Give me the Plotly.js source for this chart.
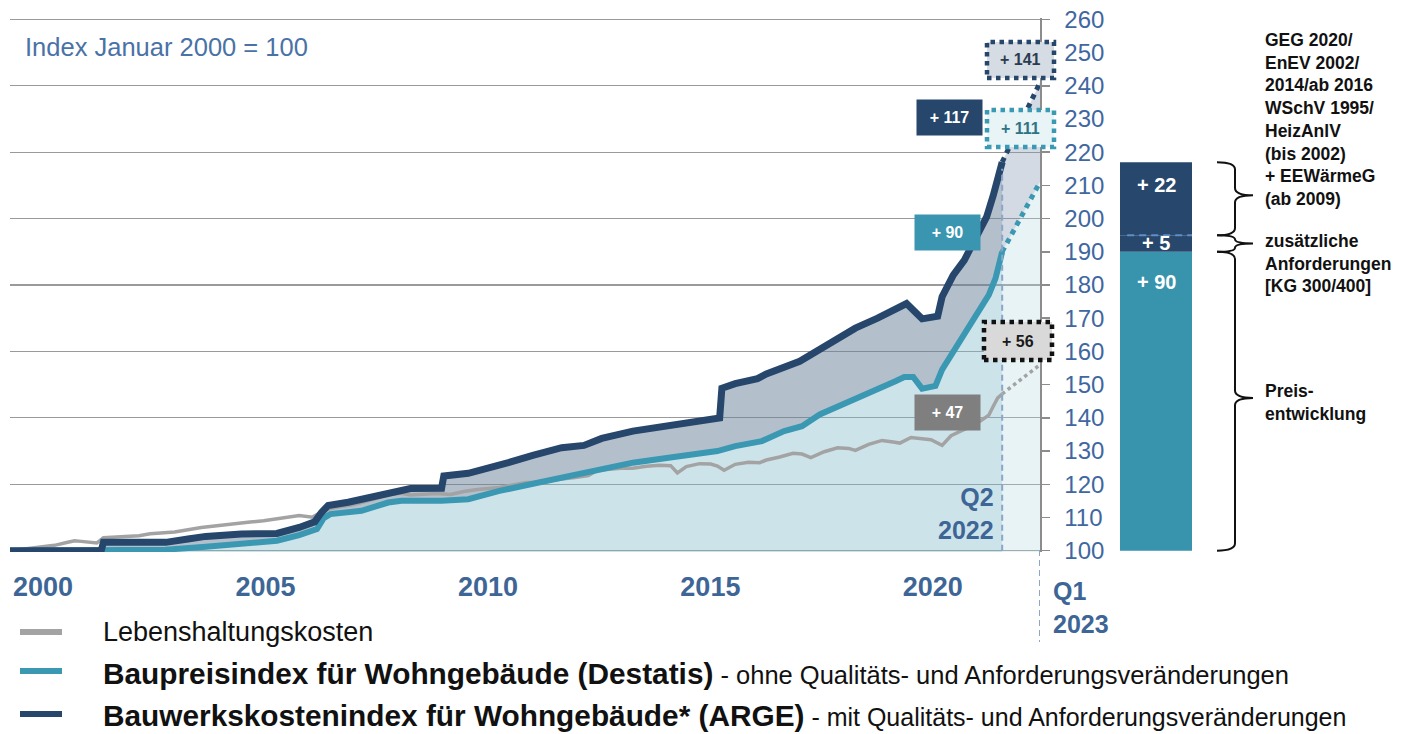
<!DOCTYPE html>
<html>
<head>
<meta charset="utf-8">
<script src="https://cdn.plot.ly/plotly-3.0.1.min.js"></script>
<style>
  html, body { margin: 0; padding: 0; background: #ffffff; }
  #chart { width: 1410px; height: 734px; }
</style>
</head>
<body>
<div id="chart"></div>
<script>
// ---------------- DATA ----------------
// Lebenshaltungskosten (consumer prices), index Jan 2000 = 100
const cpiX = [2000.0,2000.25,2000.5,2000.75,2001.0,2001.25,2001.45,2001.6,2001.8,2001.95,2002.1,2002.3,2002.6,2002.9,2003.15,2003.4,2003.7,2004.0,2004.3,2004.65,2004.9,2005.1,2005.4,2005.7,2006.0,2006.3,2006.5,2006.8,2007.0,2007.1,2007.4,2007.7,2008.0,2008.3,2008.55,2008.8,2009.0,2009.3,2009.6,2009.9,2010.2,2010.5,2010.8,2011.0,2011.3,2011.6,2011.9,2012.1,2012.4,2012.7,2013.0,2013.2,2013.5,2013.8,2014.0,2014.3,2014.6,2014.85,2015.0,2015.2,2015.5,2015.75,2015.9,2016.05,2016.3,2016.6,2016.85,2017.0,2017.3,2017.6,2017.8,2018.0,2018.3,2018.6,2018.85,2019.0,2019.3,2019.6,2019.85,2020.0,2020.25,2020.5,2020.7,2020.95,2021.15,2021.4,2021.6,2021.8,2022.0,2022.1,2022.2,2022.3];
const cpiY = [100.0,100.4,100.9,101.3,101.6,102.4,103.0,102.8,102.5,102.3,103.9,104.1,104.3,104.5,105.1,105.3,105.6,106.3,107.0,107.5,107.8,108.0,108.6,109.0,109.5,110.2,110.6,110.1,111.5,112.4,113.2,113.8,114.9,115.9,117.0,117.3,116.8,117.0,117.2,116.9,117.8,118.4,118.8,119.0,119.8,120.5,120.6,121.1,121.6,122.0,122.6,124.2,124.6,124.9,124.8,125.4,125.7,125.6,123.4,125.3,126.2,126.1,125.5,124.2,126.0,126.6,126.5,127.3,128.2,129.3,129.1,128.0,129.8,131.0,130.8,130.2,132.0,133.2,132.7,132.4,134.1,133.6,133.4,131.7,134.6,136.2,137.3,139.0,140.8,143.5,146.0,147.2];

// Baupreisindex für Wohngebäude (Destatis)
const bpiX = [2000.0,2002.0,2003.5,2004.4,2005.3,2006.0,2006.5,2006.9,2007.05,2007.2,2007.9,2008.5,2008.8,2009.7,2010.3,2010.7,2011.0,2011.7,2012.4,2013.2,2014.0,2014.8,2015.9,2016.3,2016.9,2017.4,2017.8,2018.2,2018.9,2019.5,2019.9,2020.1,2020.3,2020.5,2020.8,2020.95,2021.25,2021.5,2021.8,2022.0,2022.15,2022.3];
const bpiY = [100.0,100.0,100.3,101.2,102.0,103.0,104.7,106.5,109.8,111.0,112.0,114.5,115.0,115.0,115.5,117.0,118.0,120.0,122.0,124.5,126.5,128.0,130.0,131.5,133.0,136.0,137.5,141.0,145.0,148.3,151.0,152.3,152.3,148.8,149.6,154.5,161.0,166.0,173.0,177.0,182.0,190.0];

// Bauwerkskostenindex für Wohngebäude (ARGE)
const bkiX = [2000.0,2002.05,2002.1,2003.5,2004.0,2004.4,2005.2,2006.0,2006.5,2006.85,2007.0,2007.15,2007.6,2008.0,2008.5,2009.0,2009.7,2009.75,2010.3,2010.85,2011.2,2011.75,2012.4,2012.9,2013.3,2014.0,2014.8,2015.3,2015.95,2016.0,2016.3,2016.8,2017.0,2017.75,2018.15,2019.0,2019.5,2019.9,2020.15,2020.5,2020.85,2020.95,2021.2,2021.45,2021.7,2021.95,2022.1,2022.3];
const bkiY = [100.0,100.0,102.5,102.5,103.5,104.3,105.0,105.2,107.0,108.7,111.5,113.6,114.6,115.8,117.5,118.7,118.8,122.5,123.3,125.0,126.5,128.7,131.0,131.7,133.8,136.0,137.7,139.0,140.0,148.9,150.3,151.8,153.2,157.0,160.4,167.0,170.0,173.0,174.4,169.8,170.6,176.5,183.0,187.5,193.5,200.5,207.0,217.0];

// Projection Q2 2022 -> Q1 2023
const projX   = [2022.3, 2023.15];
const cpiProj = [147.2, 156];
const bpiProj = [190, 211];
const bkiProj = [217, 241];

// Stacked bar on the right: Preisentwicklung + zusätzliche Anforderungen + GEG/EnEV
const barParts  = [90, 5, 22];
const barLabels = ['+ 90', '+ 5', '+ 22'];
const barBase   = 100;

// Change labels
const lblBki   = '+ 117';
const lblBkiQ1 = '+ 141';
const lblBpi   = '+ 90';
const lblBpiQ1 = '+ 111';
const lblCpi   = '+ 47';
const lblCpiQ1 = '+ 56';

// Axis ticks
const xTickVals = [2000, 2005, 2010, 2015, 2020];
const xTickText = ['2000', '2005', '2010', '2015', '2020'];
const Q2_2022 = 2022.3;
const Q1_2023 = 2023.15;

// Series names and notes
const nameCpi = 'Lebenshaltungskosten';
const nameBpi = 'Baupreisindex für Wohngebäude (Destatis)';
const nameBki = 'Bauwerkskostenindex für Wohngebäude* (ARGE)';
const noteBpi = ' - ohne Qualitäts- und Anforderungsveränderungen';
const noteBki = ' - mit Qualitäts- und Anforderungsveränderungen';
const sideTop = ['GEG 2020/', 'EnEV 2002/', '2014/ab 2016', 'WSchV 1995/', 'HeizAnlV', '(bis 2002)', '+ EEWärmeG', '(ab 2009)'];
const sideMid = ['zusätzliche', 'Anforderungen', '[KG 300/400]'];
const sideLow = ['Preis-', 'entwicklung'];

// ---------------- STYLE ----------------
const FONT = 'Arial, "Liberation Sans", sans-serif';
const NAVY = '#26466b';
const TEAL = '#3a98b2';
const GRAY = '#a3a3a3';
const AXBLUE = '#3d6696';
const YRANGE = [99.6, 260.4];

// pixel -> paper helpers (plot area: x 10..1400, y 18..552)
const PX = x => (x - 10) / 1390;
const PY = y => (552 - y) / 534;

const traces = [];
// fills (main subplot, semi-transparent so the grid shows through)
traces.push({x: bpiX, y: bpiY, mode: 'lines', line: {width: 0, color: 'rgba(0,0,0,0)'},
  fill: 'tozeroy', fillcolor: 'rgba(130,185,202,0.4)', hoverinfo: 'skip', showlegend: false});
traces.push({x: bkiX, y: bkiY, mode: 'lines', line: {width: 0, color: 'rgba(0,0,0,0)'},
  fill: 'tonexty', fillcolor: 'rgba(105,127,153,0.5)', hoverinfo: 'skip', showlegend: false});
traces.push({x: projX, y: bpiProj, mode: 'lines', line: {width: 0, color: 'rgba(0,0,0,0)'},
  fill: 'tozeroy', fillcolor: 'rgba(178,215,225,0.3)', hoverinfo: 'skip', showlegend: false});
traces.push({x: projX, y: bkiProj, mode: 'lines', line: {width: 0, color: 'rgba(0,0,0,0)'},
  fill: 'tonexty', fillcolor: 'rgba(129,149,175,0.35)', hoverinfo: 'skip', showlegend: false});
// lines (overlay subplot, drawn above the fills)
traces.push({x: cpiX, y: cpiY, yaxis: 'y2', name: nameCpi, mode: 'lines', line: {color: GRAY, width: 3.5}, showlegend: false});
traces.push({x: projX, y: cpiProj, yaxis: 'y2', mode: 'lines', line: {color: GRAY, width: 3.5, dash: 'dot'}, showlegend: false});
traces.push({x: bpiX, y: bpiY, yaxis: 'y2', name: nameBpi, mode: 'lines', line: {color: TEAL, width: 6}, showlegend: false});
traces.push({x: projX, y: bpiProj, yaxis: 'y2', mode: 'lines', line: {color: TEAL, width: 5, dash: 'dot'}, showlegend: false});
traces.push({x: bkiX, y: bkiY, yaxis: 'y2', name: nameBki, mode: 'lines', line: {color: NAVY, width: 7}, showlegend: false});
traces.push({x: projX, y: bkiProj, yaxis: 'y2', mode: 'lines', line: {color: NAVY, width: 5, dash: 'dot'}, showlegend: false});

// stacked bar (explicit bases)
const barColors = ['#3893ad', '#27476c', '#27476c'];
let base = barBase;
const barMid = [];
const barTops = [];
barParts.forEach((v, i) => {
  traces.push({type: 'bar', x: [0], y: [v], base: [base], width: [1], xaxis: 'x2', yaxis: 'y',
    marker: {color: barColors[i], line: {width: 0}}, hoverinfo: 'skip', showlegend: false});
  barMid.push(base + v / 2);
  base += v;
  barTops.push(base);
});

// braces (x in paper, y in data units)
function brace(yTop, yBot, yTip) {
  const xa = PX(1217), xb = PX(1235), xt = PX(1253);
  const r = Math.min(2.2, (yTop - yBot) / 4);
  return `M ${xa},${yTop} Q ${xb},${yTop} ${xb},${yTop - r} L ${xb},${yTip + r} ` +
         `Q ${xb},${yTip} ${xt},${yTip} Q ${xb},${yTip} ${xb},${yTip - r} ` +
         `L ${xb},${yBot + r} Q ${xb},${yBot} ${xa},${yBot}`;
}

const shapes = [];
shapes.push({type: 'line', xref: 'x', yref: 'y', x0: Q2_2022, x1: Q2_2022, y0: 100, y1: 215,
  line: {color: '#8aa6c8', width: 2, dash: '6px,4px'}});
shapes.push({type: 'line', xref: 'x', yref: 'paper', x0: Q1_2023, x1: Q1_2023, y0: PY(550), y1: PY(642),
  line: {color: '#8aa6c8', width: 2, dash: '6px,4px'}});
shapes.push({type: 'line', xref: 'x2', yref: 'y', x0: -0.4, x1: 0.5, y0: barTops[1], y1: barTops[1],
  line: {color: '#5f8fc8', width: 2, dash: '7px,5px'}});
shapes.push({type: 'path', xref: 'paper', yref: 'y', path: brace(barTops[2], barTops[1], 207),
  line: {color: '#111', width: 2}});
shapes.push({type: 'path', xref: 'paper', yref: 'y', path: brace(barTops[1], barTops[0], 192.5),
  line: {color: '#111', width: 2}});
shapes.push({type: 'path', xref: 'paper', yref: 'y', path: brace(barTops[0], barBase, 146),
  line: {color: '#111', width: 2}});
function dotBox(x0, x1, y0, y1, fill, col) {
  return {type: 'rect', xref: 'paper', yref: 'paper', x0: PX(x0), x1: PX(x1), y0: PY(y1), y1: PY(y0),
    fillcolor: fill, line: {color: col, width: 4.5, dash: 'dot'}};
}
shapes.push(dotBox(987, 1054, 42, 78, '#d5dce4', NAVY));
shapes.push(dotBox(987, 1054, 110, 147, '#e9f4f7', '#3a9ab3'));
shapes.push(dotBox(984, 1052, 322, 360, '#d9d9d9', '#111111'));
const legendRows = [[632, GRAY], [671, TEAL], [714, NAVY]];
legendRows.forEach(([y, c]) => {
  shapes.push({type: 'line', xref: 'paper', yref: 'paper', x0: PX(20), x1: PX(62), y0: PY(y), y1: PY(y),
    line: {color: c, width: 6}});
});

const ann = [];
function solidBox(text, cx, cy, bg) {
  ann.push({text: '<b>' + text + '</b>', xref: 'paper', yref: 'paper', x: PX(cx), y: PY(cy),
    xanchor: 'center', yanchor: 'middle', showarrow: false, bgcolor: bg, width: 63, height: 33,
    borderpad: 1, font: {family: FONT, size: 16, color: '#ffffff'}});
}
solidBox(lblBki, 949.5, 117.5, NAVY);
solidBox(lblBpi, 947.5, 232.5, '#3a96b0');
solidBox(lblCpi, 947.5, 412.5, '#7f7f7f');
function dotText(text, cx, cy, col) {
  ann.push({text: '<b>' + text + '</b>', xref: 'paper', yref: 'paper', x: PX(cx), y: PY(cy),
    xanchor: 'center', yanchor: 'middle', showarrow: false,
    font: {family: FONT, size: 16, color: col}});
}
dotText(lblBkiQ1, 1020.5, 60, '#2c3c50');
dotText(lblBpiQ1, 1020.5, 128.5, '#2f7386');
dotText(lblCpiQ1, 1018, 341, '#1a1a1a');

const barLabelY = [181, barMid[1], 210];
barLabels.forEach((t, i) => {
  ann.push({text: '<b>' + t + '</b>', xref: 'x2', yref: 'y', x: 0, y: barLabelY[i],
    xanchor: 'center', yanchor: 'middle', showarrow: false,
    font: {family: FONT, size: 20, color: '#ffffff'}});
});

// right side explanations, one annotation per line
function sideLines(lines, yFirst) {
  lines.forEach((t, i) => {
    ann.push({text: t, xref: 'paper', yref: 'paper', x: PX(1263), y: PY(yFirst + i * 22.7),
      xanchor: 'left', yanchor: 'middle', align: 'left', showarrow: false,
      font: {family: FONT, size: 17.5, color: '#111111', weight: 'bold'}});
  });
}
sideLines(sideTop, 40);
sideLines(sideMid, 241);
sideLines(sideLow, 391);

ann.push({text: 'Index Januar 2000 = 100', xref: 'paper', yref: 'paper', x: PX(23), y: PY(47),
  xanchor: 'left', yanchor: 'middle', showarrow: false, font: {family: FONT, size: 25.5, color: '#4a72a6'}});
ann.push({text: 'Q2<br>2022', xref: 'paper', yref: 'paper', x: PX(996), y: PY(513),
  xanchor: 'right', yanchor: 'middle', align: 'right', showarrow: false,
  font: {family: FONT, size: 25, color: AXBLUE, weight: 'bold'}});
ann.push({text: 'Q1<br>2023', xref: 'paper', yref: 'paper', x: PX(1051), y: PY(607),
  xanchor: 'left', yanchor: 'middle', align: 'left', showarrow: false,
  font: {family: FONT, size: 25, color: AXBLUE, weight: 'bold'}});

// legend texts
ann.push({text: nameCpi, xref: 'paper', yref: 'paper', x: PX(101), y: PY(632),
  xanchor: 'left', yanchor: 'middle', showarrow: false, font: {family: FONT, size: 27, color: '#111'}});
ann.push({text: '<b>' + nameBpi + '</b><span style="font-size:25.5px">' + noteBpi + '</span>',
  xref: 'paper', yref: 'paper', x: PX(101), y: PY(673),
  xanchor: 'left', yanchor: 'middle', showarrow: false, font: {family: FONT, size: 29.8, color: '#111'}});
ann.push({text: '<b>' + nameBki + '</b><span style="font-size:25px">' + noteBki + '</span>',
  xref: 'paper', yref: 'paper', x: PX(101), y: PY(716),
  xanchor: 'left', yanchor: 'middle', showarrow: false, font: {family: FONT, size: 29.8, color: '#111'}});

const layout = {
  width: 1410, height: 734,
  margin: {l: 10, r: 10, t: 18, b: 182},
  paper_bgcolor: '#ffffff', plot_bgcolor: 'rgba(0,0,0,0)',
  showlegend: false,
  barmode: 'overlay',
  xaxis: {domain: [0, PX(1040)], range: [2000, Q1_2023], showgrid: false, zeroline: false, showline: false,
    tickmode: 'array', tickvals: xTickVals, ticktext: xTickText, ticks: '', ticklabelshift: 33,
    ticklabelstandoff: 16, tickfont: {family: FONT, size: 27, color: AXBLUE, weight: 'bold'}, fixedrange: true},
  xaxis2: {domain: [PX(1120), PX(1192)], range: [-0.5, 0.5], visible: false, anchor: 'y', fixedrange: true},
  yaxis: {range: YRANGE, side: 'right', anchor: 'x', tick0: 100, dtick: 10, ticks: 'outside', ticklen: 8,
    tickcolor: '#8c8c8c', tickwidth: 1.5, showline: true, linecolor: '#8c8c8c', linewidth: 1.5,
    showgrid: false, zeroline: false, ticklabelstandoff: 10,
    tickfont: {family: FONT, size: 24, color: '#3f67a0'}, fixedrange: true},
  yaxis2: {range: YRANGE, overlaying: 'y', side: 'right', anchor: 'x', tick0: 100, dtick: 20,
    showgrid: true, gridcolor: '#9a9a9a', gridwidth: 1.3, showticklabels: false, ticks: '',
    zeroline: false, showline: false, fixedrange: true},
  shapes: shapes,
  annotations: ann
};

Plotly.newPlot('chart', traces, layout, {displayModeBar: false, staticPlot: true});
</script>
</body>
</html>
